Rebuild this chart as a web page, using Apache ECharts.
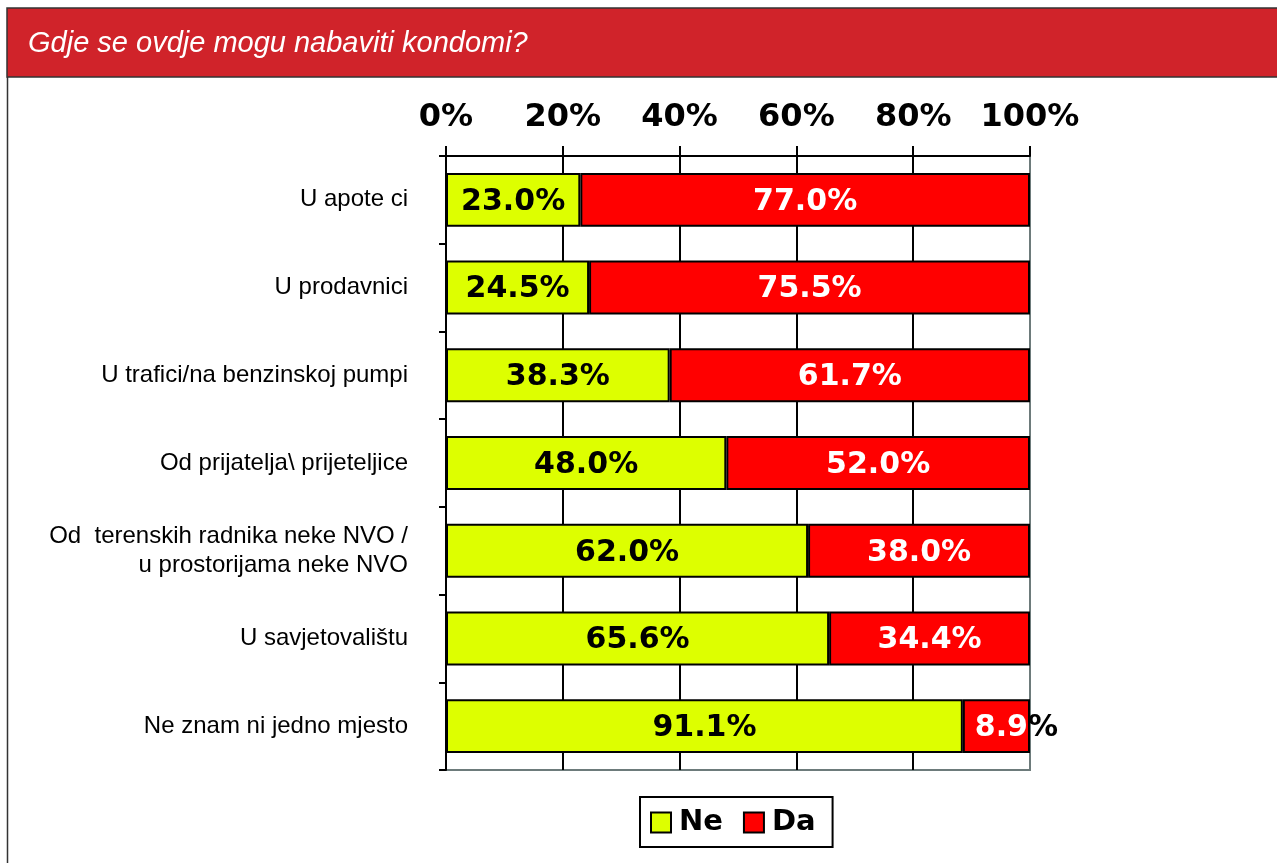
<!DOCTYPE html>
<html>
<head>
<meta charset="utf-8">
<script src="https://cdn.jsdelivr.net/npm/echarts@6/dist/echarts.min.js"></script>
<style>
  html, body { margin: 0; padding: 0; background: #fff; }
  #chart { width: 1277px; height: 863px; }
</style>
</head>
<body>
<div id="chart"></div>
<script>
var categories = [
    'U apote ci',
    'U prodavnici',
    'U trafici/na benzinskoj pumpi',
    'Od prijatelja\\ prijeteljice',
    'Od  terenskih radnika neke NVO /\nu prostorijama neke NVO',
    'U savjetovalištu',
    'Ne znam ni jedno mjesto'
];
// bar lengths as drawn in the picture
var neValues = [23.0, 24.5, 38.3, 48.0, 62.0, 65.6, 88.5];
var daValues = [77.0, 75.5, 61.7, 52.0, 38.0, 34.4, 11.5];
// numbers printed on the bars
var neLabels = ['23.0%', '24.5%', '38.3%', '48.0%', '62.0%', '65.6%', '91.1%'];
var daLabels = ['77.0%', '75.5%', '61.7%', '52.0%', '38.0%', '34.4%', '8.9%'];
var xTicks = [0, 20, 40, 60, 80, 100];

var chart = echarts.init(document.getElementById('chart'));

var barFont = { fontSize: 30, fontWeight: 'bold', fontFamily: 'DejaVu Sans' };

// the narrow last red bar: label spills over, "%" ends up black on white
var daData = daValues.map(function (v, i) {
    if (v < 15) {
        var txt = daLabels[i];
        return {
            value: v,
            label: {
                offset: [20, 2],
                formatter: '{w|' + txt.slice(0, -1) + '}{b|%}',
                rich: {
                    w: Object.assign({ color: '#fff' }, barFont),
                    b: Object.assign({ color: '#000' }, barFont)
                }
            }
        };
    }
    return v;
});

chart.setOption({
    animation: false,
    backgroundColor: '#fff',
    graphic: [
        {
            type: 'rect',
            shape: { x: 7, y: 8, width: 1290, height: 69 },
            style: { fill: '#D0232A', stroke: '#333', lineWidth: 1.5 }
        },
        {
            type: 'line',
            shape: { x1: 7.5, y1: 77, x2: 7.5, y2: 863 },
            style: { stroke: '#333', lineWidth: 1.5 }
        },
        {
            type: 'text',
            x: 28, y: 44,
            style: {
                text: 'Gdje se ovdje mogu nabaviti kondomi?',
                fill: '#fff',
                verticalAlign: 'middle',
                font: 'italic 29px "Liberation Sans", Arial, sans-serif'
            }
        }
    ],
    grid: {
        left: 446, right: 247, top: 156, bottom: 93,
        show: true,
        borderColor: '#6d7b7b',
        borderWidth: 2
    },
    legend: {
        left: 640, top: 797,
        data: ['Ne', 'Da'],
        orient: 'horizontal',
        padding: [11, 17, 10, 10],
        borderColor: '#000',
        borderWidth: 2,
        backgroundColor: '#fff',
        icon: 'rect',
        itemWidth: 20,
        itemHeight: 20,
        itemGap: 20,
        itemStyle: { borderColor: '#000', borderWidth: 2 },
        textStyle: { fontSize: 29, fontWeight: 'bold', fontFamily: 'DejaVu Sans', color: '#000', padding: [0, 0, 0, 3] }
    },
    xAxis: {
        type: 'value',
        position: 'top',
        min: xTicks[0],
        max: xTicks[xTicks.length - 1],
        interval: 20,
        axisLine: { show: true, lineStyle: { color: '#000', width: 2 } },
        axisTick: { show: true, length: 10, lineStyle: { color: '#000', width: 2 } },
        axisLabel: {
            margin: 22,
            formatter: '{value}%',
            color: '#000',
            fontSize: 32,
            fontWeight: 'bold',
            fontFamily: 'DejaVu Sans'
        },
        splitLine: { show: true, showMaxLine: false, lineStyle: { color: '#000', width: 2 } }
    },
    yAxis: {
        type: 'category',
        inverse: true,
        data: categories,
        axisLine: { show: true, lineStyle: { color: '#000', width: 2 } },
        axisTick: { show: true, length: 7, lineStyle: { color: '#000', width: 2 } },
        axisLabel: {
            margin: 38,
            color: '#000',
            fontSize: 24,
            lineHeight: 29,
            align: 'right',
            fontFamily: '"Liberation Sans", Arial, sans-serif'
        }
    },
    series: [
        {
            name: 'Ne',
            type: 'bar',
            stack: 'total',
            barWidth: '61.5%',
            data: neValues,
            itemStyle: { color: '#DDFF00', borderColor: '#000', borderWidth: 2 },
            label: Object.assign({
                show: true,
                position: 'inside',
                offset: [0, 2],
                color: '#000',
                formatter: function (p) { return neLabels[p.dataIndex]; }
            }, barFont)
        },
        {
            name: 'Da',
            type: 'bar',
            stack: 'total',
            barWidth: '61.5%',
            data: daData,
            itemStyle: { color: '#FF0000', borderColor: '#000', borderWidth: 2 },
            label: Object.assign({
                show: true,
                position: 'inside',
                offset: [0, 2],
                color: '#fff',
                formatter: function (p) { return daLabels[p.dataIndex]; }
            }, barFont)
        }
    ]
});
</script>
</body>
</html>
